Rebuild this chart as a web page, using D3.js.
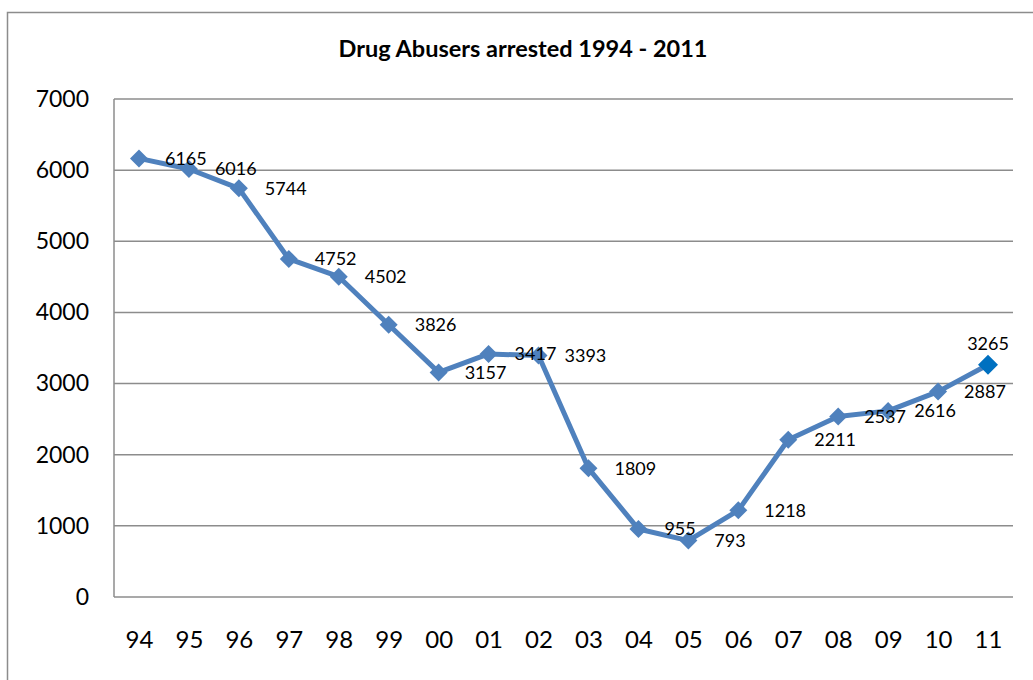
<!DOCTYPE html>
<html><head><meta charset="utf-8">
<script src="https://cdn.jsdelivr.net/npm/d3@7"></script>
<style>body{margin:0;background:#fff}svg{display:block}</style>
</head><body>
<svg id="c" width="1033" height="680"></svg>
<script>
const categories = ["94","95","96","97","98","99","00","01","02","03","04","05","06","07","08","09","10","11"];
const values = [6165,6016,5744,4752,4502,3826,3157,3417,3393,1809,955,793,1218,2211,2537,2616,2887,3265];
const yTicks = [0,1000,2000,3000,4000,5000,6000,7000];
const title = "Drug Abusers arrested 1994 - 2011";

const svg = d3.select("#c");
const font = "Lato, 'Open Sans', sans-serif";
const L = 114, R = 1013, T = 99, B = 597;

svg.append("rect").attr("x",7.5).attr("y",12.5).attr("width",1040).attr("height",700)
  .attr("fill","#fff").attr("stroke","#8c8c8c").attr("stroke-width",1.5);

const x = d3.scalePoint().domain(categories).range([L,R]).padding(0.5);
const y = d3.scaleLinear().domain([0,7000]).range([B,T]);

svg.append("text").attr("x",523).attr("y",57).attr("text-anchor","middle")
  .attr("font-family",font).attr("font-weight","bold").attr("font-size",23.5).attr("fill","#000").text(title);

// gridlines
svg.append("g").selectAll("line").data(yTicks).join("line")
  .attr("x1",L).attr("x2",R).attr("y1",d=>y(d)).attr("y2",d=>y(d))
  .attr("stroke","#8c8c8c").attr("stroke-width",1.5);
svg.append("line").attr("x1",L).attr("x2",L).attr("y1",T).attr("y2",B)
  .attr("stroke","#8c8c8c").attr("stroke-width",1.5);

// y axis labels
const ya = svg.append("g").attr("transform",`translate(${L},0)`)
  .call(d3.axisLeft(y).tickValues(yTicks).tickSize(0).tickPadding(25).tickFormat(d3.format("d")));
ya.select(".domain").remove();
ya.selectAll("text").attr("font-family",font).attr("font-size",23).attr("fill","#000");

// x axis labels
const xa = svg.append("g").attr("transform",`translate(0,${B})`)
  .call(d3.axisBottom(x).tickSize(0).tickPadding(34));
xa.select(".domain").remove();
xa.selectAll("text").attr("font-family",font).attr("font-size",24).attr("fill","#000");

const data = categories.map((c,i)=>({c,v:values[i],i}));
svg.append("path").datum(data)
  .attr("d", d3.line().x(d=>x(d.c)).y(d=>y(d.v)))
  .attr("fill","none").attr("stroke","#4F81BD").attr("stroke-width",5).attr("stroke-linejoin","round");

const last = data.length-1;
svg.append("g").selectAll("path").data(data).join("path")
  .attr("d", d=>d3.symbol().type(d3.symbolSquare).size(d.i===last?200:162)())
  .attr("transform", d=>`translate(${x(d.c)},${y(d.v)}) rotate(45)`)
  .attr("fill", d=>d.i===last?"#0070C0":"#4F81BD");

svg.append("g").selectAll("text").data(data).join("text")
  .attr("x", d=> d.i===last ? x(d.c) : x(d.c)+26)
  .attr("y", d=> d.i===last ? y(d.v)-21 : y(d.v))
  .attr("dy","0.35em")
  .attr("text-anchor", d=> d.i===last ? "middle" : "start")
  .attr("font-family",font).attr("font-size",18).attr("fill","#000")
  .text(d=>d.v);
</script>
</body></html>
